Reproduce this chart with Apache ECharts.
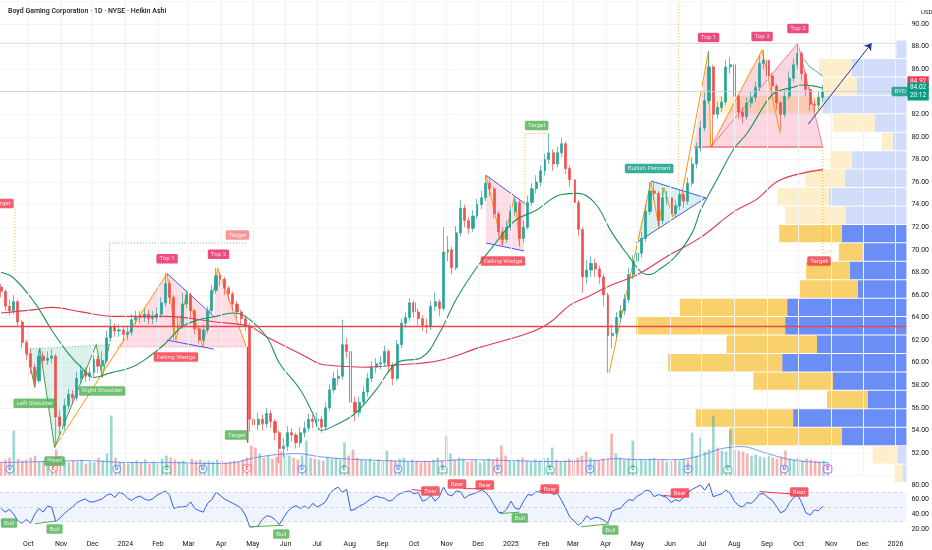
<!DOCTYPE html>
<html><head><meta charset="utf-8">
<script src="https://cdn.jsdelivr.net/npm/echarts@6/dist/echarts.min.js"></script>
<style>html,body{margin:0;padding:0;background:#fff}#c{width:932px;height:550px}</style>
</head><body><div id="c"></div>
<script>
// ---------- DATA ----------
const firstOpen = 66.7;
const closes = [
66.3,65.0,64.6,65.4,63.6,61.8,60.8,59.6,58.4,60.6,
60.2,60.4,60.6,55.2,54.4,56.2,57.2,56.9,58.6,59.3,
58.8,59.1,60.3,59.7,60.2,62.2,63.2,62.8,62.9,62.5,
62.7,63.8,64.1,64.0,64.3,63.9,64.0,64.3,65.3,67.0,
65.8,63.2,63.2,65.2,66.0,64.6,63.0,62.0,62.9,64.6,
66.4,67.7,67.4,66.6,66.1,65.2,64.5,63.9,63.3,55.0,
54.5,55.0,54.6,55.5,54.8,53.8,52.4,52.6,53.8,53.6,
52.9,53.8,54.2,55.0,54.8,55.0,54.3,56.0,57.6,58.6,
58.8,61.6,61.0,56.5,55.6,56.5,57.4,58.6,59.6,59.9,
60.0,61.0,59.8,58.6,61.6,63.5,64.0,65.3,64.5,63.9,
63.3,63.2,65.0,65.4,64.8,69.8,70.0,68.4,71.5,73.7,
72.6,71.9,73.0,74.0,74.6,75.9,75.4,73.2,71.6,70.9,
72.0,73.4,74.2,71.0,72.0,74.2,75.4,76.0,77.0,78.0,
78.6,77.6,78.6,79.4,77.2,76.2,74.2,71.8,67.6,68.2,
68.8,68.3,67.6,66.0,62.4,62.6,64.0,64.6,65.6,67.8,
69.0,69.7,71.0,73.4,75.2,75.0,72.6,74.6,74.6,73.2,
73.9,74.9,74.3,75.9,77.6,79.0,80.8,83.2,86.2,82.0,
82.6,83.1,86.2,86.4,83.6,82.2,81.8,83.0,83.5,84.4,
86.5,86.8,85.4,84.5,83.0,82.0,83.6,85.2,86.4,87.4,
85.6,84.2,82.9,82.8,83.5,84.0];
const lows = [
65.8,64.6,64.2,64.3,63.2,61.3,60.2,59.0,57.9,58.2,
59.6,59.8,60.0,52.5,53.6,54.0,55.9,56.3,56.6,58.2,
58.3,58.4,58.8,59.1,59.2,60.0,61.9,62.3,62.3,61.9,
62.0,62.4,63.4,63.5,63.6,63.4,63.4,63.6,64.0,65.0,
65.2,62.0,62.5,63.0,64.8,64.0,62.5,61.7,61.8,62.6,
64.3,66.1,66.8,66.0,65.5,64.6,63.9,63.3,62.8,53.9,
53.5,54.0,54.0,54.2,54.2,53.1,51.1,51.6,52.2,53.0,
52.4,52.5,53.4,53.9,54.2,54.3,53.8,54.0,55.7,57.3,
58.0,58.5,60.4,53.8,54.8,55.2,56.2,57.0,58.3,59.1,
59.4,59.7,59.2,58.0,58.4,61.3,63.1,63.7,64.0,63.3,
62.8,62.6,62.9,64.6,64.1,64.6,69.0,67.8,68.2,71.2,
72.0,71.4,71.6,72.7,73.6,74.3,74.8,72.8,71.1,70.4,
70.6,71.7,73.0,70.3,70.6,71.8,73.9,75.0,75.6,76.6,
77.6,77.0,77.3,78.2,76.7,75.6,73.6,71.2,66.2,67.0,
67.6,67.6,67.0,65.0,59.1,61.3,62.2,63.6,64.2,65.3,
67.4,68.5,69.3,70.7,73.1,74.4,72.0,72.3,74.0,72.7,
72.9,73.5,73.7,74.0,75.6,77.2,78.7,80.5,82.9,79.1,
81.6,82.2,82.8,85.6,83.0,81.6,81.2,81.5,82.6,83.1,
84.1,86.0,84.8,83.9,82.4,80.6,81.7,83.3,84.9,86.0,
85.0,83.6,82.3,82.2,82.4,83.1];
const highs = [
67.0,66.5,65.6,66.0,65.6,63.8,62.0,61.3,59.9,61.1,
61.0,61.0,61.2,60.8,55.8,56.8,57.7,57.6,59.2,59.8,
59.6,59.6,60.7,60.6,61.0,62.8,63.9,63.5,63.4,63.2,
63.3,64.3,64.6,64.6,64.8,64.7,64.6,64.9,65.8,67.9,
67.3,66.0,64.0,66.2,66.4,66.2,64.8,63.3,63.4,65.0,
66.9,68.4,68.0,67.6,66.8,66.3,65.5,64.7,64.2,63.5,
56.2,55.6,55.4,56.0,55.8,55.0,54.0,53.3,54.4,54.2,
53.8,54.3,54.8,55.5,55.4,55.6,55.3,56.5,58.1,59.2,
59.4,63.8,62.2,61.2,57.0,57.0,57.9,59.1,60.1,60.4,
60.6,61.5,61.2,60.0,62.0,63.9,64.5,65.7,65.5,64.8,
64.2,63.9,65.5,66.2,65.6,72.0,71.2,70.3,72.1,74.4,
74.0,72.9,73.5,74.5,75.2,76.6,76.3,75.6,73.4,72.0,
72.6,73.9,74.7,74.4,72.6,74.8,75.9,76.6,77.5,78.5,
80.3,78.9,79.1,79.9,79.6,77.5,76.4,74.4,72.0,69.1,
69.4,69.2,68.6,67.9,66.2,63.4,64.5,65.1,66.1,68.4,
69.5,70.3,71.6,74.0,76.0,76.0,75.2,75.5,75.2,74.8,
74.4,75.4,75.1,76.4,78.2,79.5,81.4,83.9,87.6,86.4,
83.1,83.6,86.8,87.1,86.6,83.8,82.6,83.5,84.0,84.9,
87.2,87.7,87.0,85.7,84.7,83.2,84.1,85.8,87.0,88.3,
87.6,85.8,84.4,83.4,84.0,84.6];
const volumes = [
14,16,18,45,17,15,16,18,20,14,
15,13,16,26,20,14,13,15,14,16,
12,14,13,18,15,22,60,18,14,13,
12,14,15,13,16,12,14,13,17,20,
18,16,14,15,13,17,15,16,14,15,
14,16,15,13,14,15,14,16,18,30,
28,22,18,20,17,19,24,22,20,18,
16,20,35,18,17,16,15,19,17,18,
16,33,20,26,18,16,15,17,14,16,
15,25,16,15,17,18,14,16,15,13,
15,14,16,18,15,40,22,16,18,17,
14,15,16,13,15,17,16,18,30,20,
15,14,16,18,15,14,16,15,17,18,
28,16,14,15,17,16,18,20,24,18,
16,15,17,18,42,22,18,16,17,35,
17,16,15,17,18,15,16,14,15,16,
15,17,16,43,20,38,24,26,60,28,
25,24,46,26,25,24,22,20,21,19,
18,20,18,17,19,25,17,16,18,15,
17,16,15,14,15,13];
const rsiValues = [
48,43,47,40,31,28,33,28,40,48,
43,51,50,30,35,41,46,50,56,59,
61,57,57,59,61,66,68,63,70,68,
62,59,63,65,61,59,61,66,69,72,
66,48,50,50,51,57,48,45,43,55,
60,70,66,61,58,55,52,48,39,23,
23,24,33,38,37,33,26,35,44,49,
52,48,51,48,55,50,53,57,68,74,
77,70,74,45,47,51,54,58,62,65,
63,62,58,60,66,69,71,72,68,70,
58,60,66,58,64,77,67,65,72,71,
62,66,68,70,73,70,63,53,43,42,
47,58,48,47,58,67,66,71,70,71,
73,67,69,59,48,36,31,25,30,38,
33,36,35,32,28,44,47,48,55,60,
59,65,68,73,72,64,67,65,63,56,
60,58,63,70,74,77,80,73,82,64,
66,68,73,69,58,52,50,56,55,60,
68,68,63,59,51,42,45,55,62,67,
56,42,39,46,45,51];
// moving averages read at points: [bar index, value]
const sma50 = [[0,68],[3,67.5],[8,65.3],[12,62.9],[16,60.8],[19,59.6],[22,58.7],[26,59.1],[31,59.6],[35,60.5],[39,61.7],[43,63.2],[47,63.8],[51,64.1],[55,64.4],[58,64.1],[63,62.3],[66,60.0],[71,57.6],[74,55.5],[76,54.0],[80,54.6],[84,55.5],[89,57.6],[94,60.0],[100,60.5],[104,62.6],[108,65.6],[113,68.5],[118,70.9],[122,72.6],[127,73.5],[133,74.9],[137,75.0],[141,74.1],[145,71.5],[149,69.4],[152,68.0],[154,67.8],[156,68.2],[160,69.4],[164,71.5],[166,73.5],[170,76.3],[174,79.0],[177,80.3],[182,83.3],[184,84.0],[188,84.4],[190,84.6],[193,84.5],[195,84.3]];
const sma200 = [[0,64.4],[8,64.7],[12,64.9],[19,64.5],[27,64.1],[39,64.1],[51,63.6],[59,63.2],[63,62.3],[71,60.8],[75,60.0],[77,59.8],[86,59.6],[94,59.8],[104,60.2],[114,61.4],[125,62.6],[130,63.5],[135,65.1],[139,65.8],[145,66.9],[151,67.8],[158,69.4],[166,71.1],[174,73.4],[179,74.4],[185,76.2],[195,77.1]];
const shortMA = [[189.6,87.3],[191.9,86.2],[195,85.4]];
const volMA = [[0,13],[10,14],[20,15],[30,13],[40,13],[50,12],[55,13],[60,18],[65,21],[70,22],[75,19],[80,17],[90,15],[100,14],[110,16],[120,15],[130,14],[140,15],[145,17],[150,16],[160,16],[165,20],[170,27],[175,29],[180,23],[185,17],[190,14],[195,13]];
// volume profile rows, top to bottom
const profileTop = 88.58, profileStep = 1.633;
const profileUp = [10,55,50,84,32,14,55,62,78,61,65,44,57,49,120,122,90,125,74,39,114,65,9,4];
const profileDown = [0,33,34,111,42,11,22,40,52,61,63,24,44,58,108,150,91,115,80,41,98,113,25,8];
const profileValueArea = [0,0,0,0,0,0,0,0,0,0,1,1,1,1,1,1,1,1,1,1,1,1,0,0];
const monthDates = ['2023-10-01','2023-11-01','2023-12-01','2024-01-01','2024-02-01','2024-03-01','2024-04-01','2024-05-01','2024-06-01','2024-07-01','2024-08-01','2024-09-01','2024-10-01','2024-11-01','2024-12-01','2025-01-01','2025-02-01','2025-03-01','2025-04-01','2025-05-01','2025-06-01','2025-07-01','2025-08-01','2025-09-01','2025-10-01','2025-11-01','2025-12-01','2026-01-01'];
const monthLabels = ['Oct','Nov','Dec','2024','Feb','Mar','Apr','May','Jun','Jul','Aug','Sep','Oct','Nov','Dec','2025','Feb','Mar','Apr','May','Jun','Jul','Aug','Sep','Oct','Nov','Dec','2026'];
const lastPrice = 84.02, prevTag = 84.92, resistanceLine = 63.25, highLine = 88.3;
const dividends = [2.1,27.3,47.6,71.0,93.6,117.2,138.9,162.0,184.7];
const earningsUp = [39.1,80.9,104.2,129.5,149.0,171.4];
const earningsDown = [12.3,58.0];
const earningsNext = [195.0];

// ---------- helpers ----------
const DAY = 86400000;
const startMs = Date.UTC(2023, 8, 5);
const t = i => startMs + i * 4 * DAY;
const xMin = Date.UTC(2023, 8, 4), xMax = xMin + 860.4 * DAY;
const monthMs = monthDates.map(s => Date.parse(s + 'T00:00:00Z'));
const opens = closes.map((c, i) => i === 0 ? firstOpen : closes[i - 1]);
const FONT = 'Roboto';
const UP = '#26a69a', DN = '#ef5350';

const mainShapes = [
  {fill:'rgba(8,153,129,0.14)', pts:[[6.1,61.2],[8.0,57.8],[9.2,61.3],[12.7,52.5],[22.6,61.6],[24.0,58.7],[25.7,61.6]]},
  {stroke:'#43a047', w:1, pts:[[6.1,61.2],[8.0,57.8],[9.2,61.3],[12.7,52.5],[22.6,61.6],[24.0,58.7],[25.7,61.6]]},
  {stroke:'#43a047', w:0.8, dash:[1,2], pts:[[6.1,61.2],[25.7,61.6]]},
  {stroke:'#43a047', w:0.8, dash:[1,2], pts:[[25.7,61.6],[25.7,70.6],[58.3,70.6]]},
  {fill:'rgba(242,54,105,0.17)', pts:[[27.6,61.4],[39.4,67.9],[50.5,64.0],[51.4,68.4],[58.2,61.4]]},
  {stroke:'#f06292', w:0.8, dash:[1,2], pts:[[27.6,61.4],[58.2,61.4]]},
  {stroke:'#ff9800', w:1, pts:[[12.7,52.5],[39.4,67.9],[41.5,62.0],[44.1,66.2],[47.9,61.4],[51.4,68.4],[58.2,61.4]]},
  {stroke:'#3d5afe', w:1, pts:[[39.4,67.9],[50.5,64.1]]},
  {stroke:'#3d5afe', w:1, pts:[[39.4,62.0],[50.5,61.2]]},
  {stroke:'#f23645', w:1.5, pts:[[58.5,61.4],[58.5,52.9]]},
  {stroke:'#ff9800', w:0.8, dash:[1,2], pts:[[3.3,73.6],[3.3,68.0]]},
  {fill:'rgba(242,54,105,0.17)', pts:[[115.1,76.6],[124.3,74.1],[124.1,69.9],[115.1,70.6]]},
  {stroke:'#3d5afe', w:1, pts:[[115.1,76.6],[124.3,74.1]]},
  {stroke:'#3d5afe', w:1, pts:[[115.1,70.6],[124.1,69.9]]},
  {stroke:'#ff9800', w:1, pts:[[115.1,76.6],[118.9,70.4],[121.9,74.7],[123.1,70.3]]},
  {stroke:'#ff9800', w:0.8, dash:[1,2], pts:[[124.3,74.0],[124.3,80.3],[130,80.3]]},
  {fill:'rgba(8,153,129,0.14)', pts:[[154.2,76.1],[167.2,74.6],[150.7,70.6]]},
  {fill:'rgba(242,54,105,0.2)', pts:[[164.4,79.1],[167.9,87.6],[168.4,79.1],[180.6,87.7],[182.1,85.2],[189.1,88.3],[195.0,79.1]]},
  {stroke:'#ff9800', w:1, pts:[[144.3,59.1],[154.2,76.0],[156.1,72.0],[157.3,75.5],[159.4,72.9],[161.3,74.4],[167.9,87.6],[168.4,79.1],[180.6,87.7],[184.9,80.3]]},
  {stroke:'#3d5afe', w:1, pts:[[154.2,76.1],[167.2,74.6]]},
  {stroke:'#3d5afe', w:1, pts:[[150.7,70.6],[167.2,74.6]]},
  {stroke:'#ff9800', w:0.8, dash:[1,2], pts:[[160.8,92.1],[160.8,75.7]]},
  {stroke:'#f23645', w:1, pts:[[164.4,79.1],[195.0,79.1]]},
  {stroke:'#f06292', w:0.8, pts:[[168.4,79.1],[189.1,88.3],[195.0,79.1]]},
  {stroke:'#ff9800', w:0.8, dash:[1,2], pts:[[195.0,79.1],[195.0,69.7],[197.2,69.9]]},
  {stroke:'#26a69a', w:0.8, pts:shortMA}
];
const rsiShapes = [
  {stroke:'#4caf50', w:1, pts:[[8,27],[13,31]]},
  {stroke:'#4caf50', w:1, pts:[[59,23],[67,25]]},
  {stroke:'#4caf50', w:1, pts:[[118.3,41],[123,43]]},
  {stroke:'#4caf50', w:1, pts:[[137.6,23],[144.3,27]]},
  {stroke:'#f23645', w:1, pts:[[97.5,74],[102.2,70]]},
  {stroke:'#f23645', w:1, pts:[[109.7,75],[114.8,75]]},
  {stroke:'#f23645', w:1, pts:[[127.7,72],[130.1,74]]},
  {stroke:'#f23645', w:1, pts:[[157,66],[161.5,63]]},
  {stroke:'#f23645', w:1, pts:[[180,71],[189.5,67]]}
];
const mainLabels = [
  [0.2,74.1,'Target','#f23645'],
  [8.0,56.4,'Left Shoulder','#4caf50'],
  [12.7,51.3,'Head','#4caf50'],
  [24.0,57.5,'Right Shoulder','#4caf50'],
  [56.1,71.3,'Target','#f77c80'],
  [39.4,69.2,'Top 1','#e91e63'],
  [51.6,69.6,'Top 2','#e91e63'],
  [41.5,60.5,'Falling Wedge','#f23645'],
  [55.9,53.6,'Target','#4caf50'],
  [119.1,69.0,'Falling Wedge','#f23645'],
  [127.1,81.0,'Target','#4caf50'],
  [153.8,77.2,'Bullish Pennant','#089981'],
  [167.9,88.8,'Top 1','#e91e63'],
  [180.6,88.9,'Top 2','#e91e63'],
  [189.1,89.6,'Top 2','#e91e63'],
  [194.1,69.0,'Target','#f23645'],
  [213.4,84.02,'BYD','#089981']
];
const rsiLabels = [
  [1.9,28.2,'Bull','#4caf50'],[12.7,20.0,'Bull','#4caf50'],[66.5,13.2,'Bull','#4caf50'],
  [123.1,35.0,'Bull','#4caf50'],[144.6,18.6,'Bull','#4caf50'],
  [101.9,71.8,'Bear','#f23645'],[108.2,81.4,'Bear','#f23645'],[114.8,80.0,'Bear','#f23645'],
  [130.2,74.5,'Bear','#f23645'],[161.1,69.1,'Bear','#f23645'],[189.4,70.5,'Bear','#f23645']
];

function shapeSeries(list, xi, yi, z) {
  return {
    type:'custom', xAxisIndex:xi, yAxisIndex:yi, z, silent:true, clip:true,
    data: list.map((s,k) => [t(s.pts[0][0]), s.pts[0][1], k]),
    encode:{x:0, y:1},
    renderItem:(params, api) => {
      const s = list[params.dataIndex];
      const pts = s.pts.map(p => api.coord([t(p[0]), p[1]]));
      if (s.fill) return {type:'polygon', shape:{points:pts}, style:{fill:s.fill}};
      return {type:'polyline', shape:{points:pts}, style:{fill:null, stroke:s.stroke, lineWidth:s.w, lineDash:s.dash || null}};
    }
  };
}
function labelSeries(list, xi, yi, z) {
  return {
    type:'scatter', xAxisIndex:xi, yAxisIndex:yi, z, silent:true, symbolSize:1,
    itemStyle:{color:'rgba(0,0,0,0)'},
    data: list.map(l => ({value:[t(l[0]), l[1]], label:{show:true, position:'inside', formatter:l[2],
      backgroundColor:l[3], color:'#fff', fontSize:6.2, fontFamily:FONT, padding:[2,3,1.5,3], borderRadius:1.5}}))
  };
}
function iconSeries(list, symbol, stroke, fill, txt, txtColor) {
  return {
    type:'scatter', xAxisIndex:1, yAxisIndex:1, z:6, silent:true, symbol, symbolSize:8,
    itemStyle:{color:fill, borderColor:stroke, borderWidth:0.8},
    label:{show:true, position:'inside', formatter:txt, color:txtColor, fontSize:5.5, fontFamily:FONT, fontWeight:'bold'},
    data: list.map(i => [t(i), 6.6])
  };
}

const profileSeries = {
  type:'custom', xAxisIndex:3, yAxisIndex:0, z:1, silent:true,
  data: profileUp.map((b,k) => [b + profileDown[k], profileTop - (k + 0.5) * profileStep]),
  encode:{x:0, y:1},
  renderItem:(params, api) => {
    const k = params.dataIndex;
    const hi = profileTop - k * profileStep, lo = hi - profileStep;
    const b = profileUp[k], d = profileDown[k];
    const p0 = api.coord([0, hi]), p1 = api.coord([b, lo]), p2 = api.coord([b + d, lo]);
    const solid = profileValueArea[k] === 1;
    const y0 = p0[1] + 0.5, h = p1[1] - p0[1] - 1;
    return {type:'group', children:[
      {type:'rect', shape:{x:p1[0], y:y0, width:p0[0]-p1[0], height:h}, style:{fill: solid ? '#6a8ef6' : '#d2dcfb'}},
      {type:'rect', shape:{x:p2[0], y:y0, width:p1[0]-p2[0], height:h}, style:{fill: solid ? '#f9d16c' : '#fdefcb'}}
    ]};
  }
};

function monthLabelOf(v) {
  let k = 0, best = Infinity;
  monthMs.forEach((m,j) => { const dd = Math.abs(m - v); if (dd < best) { best = dd; k = j; } });
  return monthLabels[k];
}
const axisLblStyle = {fontSize:7, color:'#131722', fontFamily:FONT};
const dateAxis = (gi, showLabels) => ({
  type:'value', gridIndex:gi, min:xMin, max:xMax, scale:true,
  axisLine:{show:false}, axisTick:{show:false}, splitLine:{show:false},
  axisLabel: showLabels ? Object.assign({show:true, margin:4, customValues:monthMs, hideOverlap:false,
    showMinLabel:true, showMaxLabel:true, formatter:v => monthLabelOf(v)}, axisLblStyle) : {show:false}
});

const chart = echarts.init(document.getElementById('c'), null, {renderer:'canvas'});
chart.setOption({
  animation:false,
  backgroundColor:'#ffffff',
  title:[
    {text:'Boyd Gaming Corporation · 1D · NYSE · Heikin Ashi', left:3, top:3, textStyle:{fontSize:7, fontWeight:500, color:'#131722', fontFamily:FONT}},
    {text:'USD', left:916, top:4, textStyle:{fontSize:6, fontWeight:'normal', color:'#131722', fontFamily:FONT}}
  ],
  grid:[
    {left:0, right:20, top:1.42, height:474.18},
    {left:0, right:20, top:400, height:75.6},
    {left:0, right:20, top:477.67, height:58.67}
  ],
  xAxis:[
    dateAxis(0,false), dateAxis(1,false), dateAxis(2,true),
    {type:'value', gridIndex:0, min:0, max:912, inverse:true, show:false}
  ],
  yAxis:[
    {type:'value', gridIndex:0, min:50, max:92, interval:2, position:'right',
      axisLine:{show:false}, axisTick:{show:false},
      axisLabel:Object.assign({margin:5, showMinLabel:false, showMaxLabel:false, formatter:v => v.toFixed(2)}, axisLblStyle),
      splitLine:{show:true, lineStyle:{color:'#f3f4f7', width:1}}},
    {type:'value', gridIndex:1, min:0, max:75.6, show:false},
    {type:'value', gridIndex:2, min:10, max:90, interval:10, position:'right',
      axisLine:{show:false}, axisTick:{show:false}, splitLine:{show:false},
      axisLabel:Object.assign({margin:5, formatter:v => (v % 20 === 0 && v >= 20 && v <= 80) ? v.toFixed(2) : ''}, axisLblStyle)}
  ],
  series:[
    profileSeries,
    shapeSeries(mainShapes, 0, 0, 2),
    {type:'line', xAxisIndex:0, yAxisIndex:0, z:4, silent:true, symbol:'none', smooth:0.4,
      lineStyle:{color:'#e0384d', width:1.1}, data: sma200.map(p => [t(p[0]), p[1]])},
    {type:'line', xAxisIndex:0, yAxisIndex:0, z:4, silent:true, symbol:'none', smooth:0.4,
      lineStyle:{color:'#21935b', width:1.1}, data: sma50.map(p => [t(p[0]), p[1]])},
    {type:'candlestick', xAxisIndex:0, yAxisIndex:0, z:3, barWidth:2.6,
      itemStyle:{color:UP, color0:DN, borderColor:UP, borderColor0:DN, borderWidth:0.7},
      data: closes.map((c,i) => [t(i), opens[i], c, lows[i], highs[i]]),
      markLine:{silent:true, symbol:'none', animation:false, precision:2,
        data:[
          ...monthMs.map(m => ({xAxis:m, lineStyle:{color:'#f1f2f6', width:1, type:'solid'}, label:{show:false}})),
          {yAxis:highLine, lineStyle:{color:'#dadde4', width:1, type:'solid'}, label:{show:false}},
          {yAxis:resistanceLine, lineStyle:{color:'#e5484d', width:1.4, type:'solid'}, label:{show:false}},
          {yAxis:prevTag, lineStyle:{color:'rgba(0,0,0,0)', width:0.1, type:'solid'}, label:{show:true, position:'end', distance:1, formatter:'84.92',
            backgroundColor:'#f23645', color:'#fff', fontSize:6.5, fontFamily:FONT, padding:[1.5,2.5]}},
          {yAxis:lastPrice, lineStyle:{color:'#c9ccd4', width:0.8, type:'solid'}, label:{show:true, position:'end', distance:1, formatter:'84.02\n20:12',
            backgroundColor:'#089981', color:'#fff', fontSize:6.5, lineHeight:7.5, fontFamily:FONT, padding:[1.5,2.5]}},
          [{coord:[t(191.5),81.1], symbol:'none', lineStyle:{color:'#283593', width:1, type:'solid'}}, {coord:[t(206.6),88.3], symbol:'arrow', symbolSize:7}]
        ]}},
    labelSeries(mainLabels, 0, 0, 7),
    {type:'bar', xAxisIndex:1, yAxisIndex:1, z:2, silent:true, barWidth:2.6,
      data: volumes.map((v,i) => ({value:[t(i), v], itemStyle:{color: closes[i] >= opens[i] ? 'rgba(38,166,154,0.45)' : 'rgba(239,83,80,0.45)'}}))},
    {type:'line', xAxisIndex:1, yAxisIndex:1, z:3, silent:true, symbol:'none', smooth:0.3,
      lineStyle:{color:'#5b7cf0', width:0.8}, data: volMA.map(p => [t(p[0]), p[1]])},
    iconSeries(dividends, 'circle', '#2962ff', '#ffffff', 'D', '#2962ff'),
    iconSeries(earningsUp, 'path://M5,0 L10,4 L10,10 L0,10 L0,4 Z', '#089981', '#ffffff', 'E', '#089981'),
    iconSeries(earningsDown, 'path://M0,0 L10,0 L10,6 L5,10 L0,6 Z', '#f23645', '#ffffff', 'E', '#f23645'),
    iconSeries(earningsNext, 'roundRect', '#d500f9', '#ffffff', 'E', '#d500f9'),
    {type:'line', xAxisIndex:2, yAxisIndex:2, z:4, silent:true, symbol:'none',
      lineStyle:{color:'#2f5cf2', width:1}, data: rsiValues.map((v,i) => [t(i), v]),
      markArea:{silent:true, itemStyle:{color:'rgba(41,98,255,0.07)'}, data:[[{yAxis:30},{yAxis:70}]]},
      markLine:{silent:true, symbol:'none', label:{show:false},
        lineStyle:{color:'#c3c7d1', width:0.7, type:[3,3]},
        data:[{yAxis:70},{yAxis:50},{yAxis:30}]}},
    shapeSeries(rsiShapes, 2, 2, 5),
    labelSeries(rsiLabels, 2, 2, 7)
  ]
});
</script></body></html>
